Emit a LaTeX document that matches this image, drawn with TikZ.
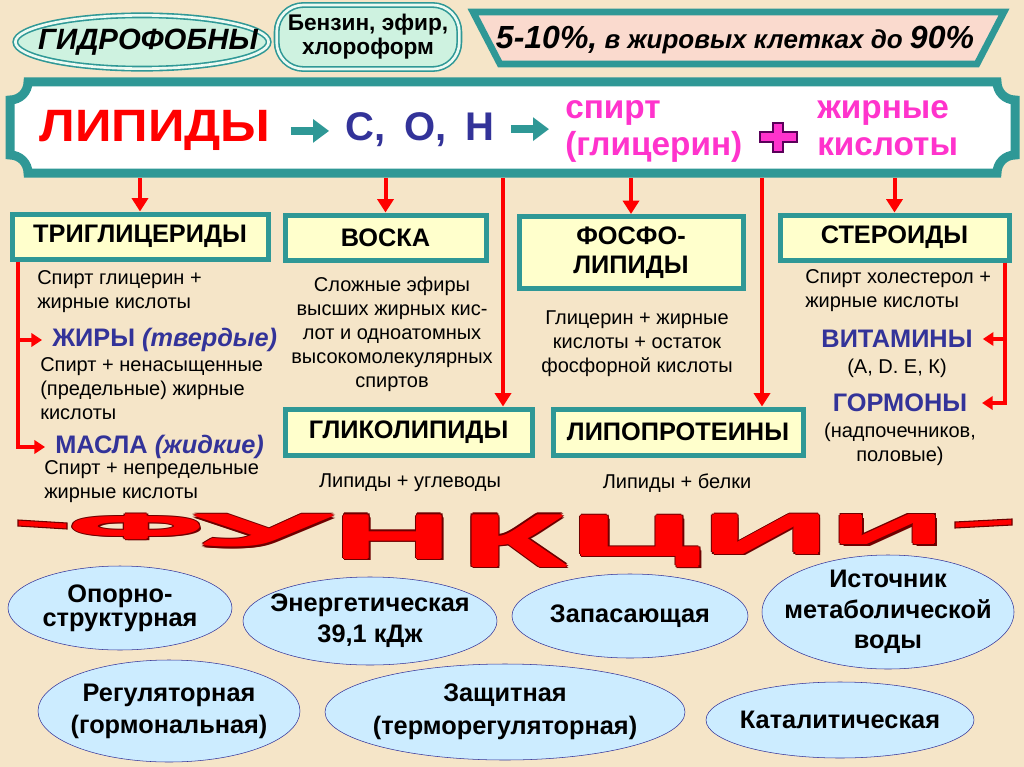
\documentclass[tikz,border=0pt]{standalone}
\usepackage{fontspec}
\setmainfont{Liberation Sans}
\usepackage{graphicx}
\usetikzlibrary{arrows.meta,shapes.geometric,positioning}

\definecolor{bgbeige}{RGB}{245,229,200}
\definecolor{tealc}{RGB}{47,152,150}
\definecolor{mintfill}{RGB}{206,242,224}
\definecolor{mintlight}{RGB}{236,250,242}
\definecolor{pinkfill}{RGB}{250,218,206}
\definecolor{boxyellow}{RGB}{255,255,204}
\definecolor{navy}{RGB}{51,51,153}
\definecolor{magentac}{RGB}{255,51,204}
\definecolor{plusedge}{RGB}{90,0,90}
\definecolor{fnfill}{RGB}{204,236,255}
\definecolor{fudark}{RGB}{110,0,0}

% one stretched letter of the word art, thickened, with a dark rim
\newcommand{\fuglyph}[3]{%
  \setbox0\hbox{\resizebox*{#1}{#2}{#3}}%
  \rlap{\color{fudark}%
    \rlap{\kern1.7pt\copy0}\rlap{\kern-1.7pt\copy0}\rlap{\raise1.7pt\copy0}\rlap{\lower1.7pt\copy0}%
    \rlap{\kern1.2pt\raise1.2pt\copy0}\rlap{\kern1.2pt\lower1.2pt\copy0}%
    \rlap{\kern-1.2pt\raise1.2pt\copy0}\rlap{\kern-1.2pt\lower1.2pt\copy0}%
    \rlap{\kern2pt\lower2pt\copy0}}%
  \rlap{\kern0.9pt\copy0}\rlap{\kern-0.9pt\copy0}\rlap{\raise0.9pt\copy0}\rlap{\lower0.9pt\copy0}%
  \copy0}

\begin{document}
\begin{tikzpicture}[x=0.75pt,y=-0.75pt,
  every node/.style={inner sep=0pt},
  tbox/.style={draw=tealc, line width=3.75pt, fill=boxyellow, align=center,
    font=\bfseries\fontsize{19}{22}\selectfont},
  note/.style={font=\fontsize{15}{18}\selectfont},
  kind/.style={text=navy, font=\bfseries\fontsize{19}{22}\selectfont},
  func/.style={ellipse, draw=navy, thin, fill=fnfill, align=center, inner sep=-11pt,
    font=\bfseries\fontsize{19}{24}\selectfont},
  rarr/.style={draw=red, line width=3pt, -{Triangle[width=12pt,length=10pt]}},
  rside/.style={draw=red, line width=3pt, -{Triangle[width=10pt,length=8pt]}},
  tarr/.style={draw=tealc, line width=6pt, -{Triangle[width=17pt,length=12pt]}},
  fu/.style={text=red, font=\bfseries, anchor=north}]

  % Background
  \fill[bgbeige] (0,0) rectangle (1024,767);
  \useasboundingbox (0,0) rectangle (1024,767);

  % Top row
  \node[ellipse, draw=tealc, line width=1.2pt, double=mintlight, double distance=2pt,
    fill=mintfill, minimum width=190pt, minimum height=40pt, inner xsep=-20pt,
    font=\bfseries\itshape\fontsize{22}{24}\selectfont] (hydro) at (142,42) {\hspace{9pt}ГИДРОФОБНЫ};
  \node[rounded corners=20pt, draw=tealc, line width=1.2pt, double=mintlight,
    double distance=2pt, fill=mintfill, minimum width=137pt, minimum height=48pt,
    align=center, font=\bfseries\fontsize{17}{18}\selectfont] (solv) at (368,37)
    {Бензин, эфир,\\хлороформ};
  \draw[tealc, line width=5pt, fill=pinkfill, line join=miter]
    (473,12) -- (1004,12) -- (977,64) -- (500,64) -- cycle;
  \node[font=\bfseries\itshape\fontsize{19.5}{22}\selectfont] (share) at (735,40)
    {{\fontsize{24}{26}\selectfont 5-10\%,} в жировых клетках до {\fontsize{24}{26}\selectfont 90\%}};

  % Banner
  \node[minimum width=761.25pt, minimum height=75pt] (banner) at (512.5,128) {};
  \draw[tealc, line width=6.75pt, fill=white]
    (28,82) -- (997,82) arc(180:90:18) -- (1015,155) arc(270:180:18)
    -- (28,173) arc(0:-90:18) -- (10,100) arc(90:0:18) -- cycle;
  \node[anchor=base, text=red, font=\bfseries\fontsize{34}{36}\selectfont] (lip)
    at (155,142) {\scalebox{1.12}[1]{ЛИПИДЫ}};
  \node[anchor=base, text=navy, font=\bfseries\fontsize{30}{32}\selectfont] (chem)
    at (420,140) {С,\hspace{6pt} О,\hspace{6pt} Н};
  \node[anchor=west, text=magentac, align=left, font=\bfseries\fontsize{25}{28}\selectfont]
    (alc) at (565,131.5) {спирт\\(глицерин)};
  \node[anchor=west, text=magentac, align=left, font=\bfseries\fontsize{25}{28}\selectfont]
    (acid) at (817,128) {жирные\\кислоты};
  \draw[tarr, shorten <=15pt, shorten >=12pt] (lip.east) -- (lip.east -| chem.west);
  \draw[tarr, shorten <=12pt, shorten >=12pt] (chem.east) -- (chem.east -| alc.west);
  \filldraw[fill=magentac, draw=plusedge, line width=0.8pt]
    (773,123) -- (783,123) -- (783,132) -- (797,132) -- (797,142) -- (783,142)
    -- (783,152) -- (773,152) -- (773,142) -- (760,142) -- (760,132) -- (773,132) -- cycle;

  % Classes
  \node[tbox, minimum width=192pt, minimum height=33.75pt] (trig) at (140,236.5) {ТРИГЛИЦЕРИДЫ};
  \node[tbox, minimum width=150.75pt, minimum height=33.75pt] (wax) at (385.5,237.5) {ВОСКА};
  \node[tbox, minimum width=168pt, minimum height=54pt] (phos) at (631,252.5) {ФОСФО-\\ЛИПИДЫ};
  \node[tbox, minimum width=171.75pt, minimum height=33.75pt] (ster) at (894.5,237.5) {СТЕРОИДЫ};
  \node[tbox, minimum width=185.25pt, minimum height=34.5pt] (glyco) at (408.5,432) {ГЛИКОЛИПИДЫ};
  \node[tbox, minimum width=187.5pt, minimum height=34.5pt] (lipo) at (678,432) {ЛИПОПРОТЕИНЫ};

  \coordinate (gx) at (503,0);
  \coordinate (lx) at (762,0);
  \coordinate (tb) at (18,0);
  \coordinate (sb) at (1005,0);
  \draw[rarr] (banner.south -| trig.north) -- (trig.north);
  \draw[rarr] (banner.south -| wax.north) -- (wax.north);
  \draw[rarr] (banner.south -| gx) -- (glyco.north -| gx);
  \draw[rarr] (banner.south -| phos.north) -- (phos.north);
  \draw[rarr] (banner.south -| lx) -- (lipo.north -| lx);
  \draw[rarr] (banner.south -| ster.north) -- (ster.north);

  % Notes
  \node[note, anchor=west, align=left] (trignote) at (37,292) {Спирт глицерин +\\жирные кислоты};
  \node[kind, anchor=west, inner xsep=7.5pt] (fats) at (42,340) {ЖИРЫ {\itshape(твердые)}};
  \node[note, anchor=west, align=left] (fatsnote) at (40,389)
    {Спирт + ненасыщенные\\(предельные) жирные\\кислоты};
  \node[kind, anchor=west, inner xsep=7.5pt] (oils) at (45,447) {МАСЛА {\itshape(жидкие)}};
  \node[note, anchor=west, align=left] (oilsnote) at (44,482) {Спирт + непредельные\\жирные кислоты};
  \node[note, align=center] (waxnote) at (392,334)
    {Сложные эфиры\\высших жирных кис-\\лот и одноатомных\\высокомолекулярных\\спиртов};
  \node[note] (glyconote) at (410,483) {Липиды + углеводы};
  \node[note, align=center] (phosnote) at (637,344)
    {Глицерин + жирные\\кислоты + остаток\\фосфорной кислоты};
  \node[note] (liponote) at (677,483) {Липиды + белки};
  \node[note, anchor=west, align=left] (sternote) at (805,291) {Спирт холестерол +\\жирные кислоты};
  \node[kind, inner xsep=7.5pt] (vit) at (897,339) {ВИТАМИНЫ};
  \node[note] (vitnote) at (897,368) {(А, D. Е, К)};
  \node[kind, inner xsep=11pt] (horm) at (900,403) {ГОРМОНЫ};
  \node[note, align=center] (hormnote) at (900,444) {(надпочечников,\\половые)};

  \draw[rside] (trig.south -| tb) |- (fats.west);
  \draw[rside] (trig.south -| tb) |- (oils.west);
  \draw[rside] (ster.south -| sb) |- (vit.east);
  \draw[rside] (ster.south -| sb) |- (horm.east);

  % Word art
  \filldraw[fill=red, draw=fudark, line width=0.8pt] (18,520) -- (67,523) -- (67,529) -- (18,526) -- cycle;
  \filldraw[fill=red, draw=fudark, line width=0.8pt] (955,522) -- (1012,519) -- (1012,525) -- (955,528) -- cycle;
  \node[fu] (fu1) at (136,513) {\fuglyph{102pt}{17pt}{Ф}};
  \node[fu] (fu2) at (263,513) {\fuglyph{103pt}{23pt}{У}};
  \node[fu] (fu3) at (393,513) {\fuglyph{89pt}{32pt}{Н}};
  \node[fu] (fu4) at (514,513) {\fuglyph{79pt}{38pt}{К}};
  \node[fu] (fu5) at (635,514) {\fuglyph{98pt}{37pt}{Ц}};
  \node[fu] (fu6) at (766,513) {\fuglyph{96pt}{28pt}{И}};
  \node[fu] (fu7) at (888,513) {\fuglyph{86pt}{21pt}{И}};

  % Functions
  \node[func, minimum width=168pt, minimum height=63pt, font=\bfseries\fontsize{19}{18}\selectfont]
    (f1) at (120,608) {Опорно-\\структурная};
  \node[func, minimum width=190.5pt, minimum height=66pt, font=\bfseries\fontsize{19}{23}\selectfont]
    (f2) at (370,621) {Энергетическая\\39,1 кДж};
  \node[func, minimum width=177pt, minimum height=63pt] (f3) at (630,616) {Запасающая};
  \node[func, minimum width=189pt, minimum height=85.5pt, font=\bfseries\fontsize{19}{23}\selectfont]
    (f4) at (888,612) {Источник\\метаболической\\воды};
  \node[func, minimum width=196.5pt, minimum height=76.5pt] (f5) at (169,711) {Регуляторная\\(гормональная)};
  \node[func, minimum width=270pt, minimum height=72pt, font=\bfseries\fontsize{19}{25}\selectfont]
    (f6) at (505,712) {Защитная\\(терморегуляторная)};
  \node[func, minimum width=201pt, minimum height=57pt] (f7) at (840,720) {Каталитическая};

\end{tikzpicture}
\end{document}
